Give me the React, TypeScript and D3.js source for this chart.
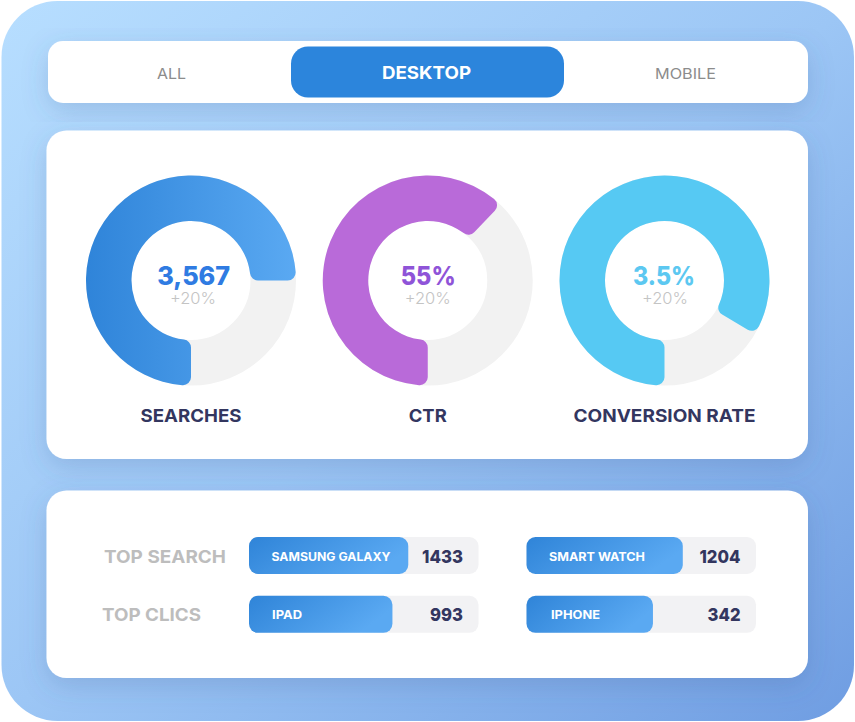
import { useEffect, useRef } from 'react'
import { arc, pie, scaleLinear, scalePoint, select } from 'd3'

const tabs = ['ALL', 'DESKTOP', 'MOBILE']

const metricNames = ['SEARCHES', 'CTR', 'CONVERSION RATE']
const metricValues = ['3,567', '55%', '3.5%']
const metricDeltas = ['+20%', '+20%', '+20%']
// share of the ring that is filled
const metricShares = [0.75, 0.622, 0.835]

const rowLabels = ['TOP SEARCH', 'TOP CLICS']
const barLabels = ['SAMSUNG GALAXY', 'IPAD', 'SMART WATCH', 'IPHONE']
const barValues = [1433, 993, 1204, 342]
const barShares = [0.694, 0.625, 0.681, 0.551]

// measured text widths (the original font is not installed)
const tabWidths = [29, 89, 61]
const valueWidths = [73, 55, 62]
const titleWidths = [101, 38, 182]
const rowLabelWidths = [122, 99]
const barLabelWidths = [119, 30, 96, 49]
const barValueWidths = [41, 33, 41, 33]

// small offsets of the centre texts and bar labels
const valueShift = [2.7, 0.5, -0.5]
const deltaShift = [2, 0, 0.5]
const barLabelX = [22.5, 23, 22.5, 24.5]

const FONT = 'Inter, "Noto Sans", sans-serif'
const NAVY = '#33365f'

const dimensions = { width: 855, height: 722 }

const App = () => {
  const ref = useRef<SVGSVGElement | null>(null)

  useEffect(() => {
    const svg = select(ref.current)
    svg.selectAll('*').remove()
    const defs = svg.append('defs')

    const gradient = (id: string, x2: number, y2: number, stops: string[]) => {
      const g = defs.append('linearGradient').attr('id', id)
        .attr('x1', 0).attr('y1', 0).attr('x2', x2).attr('y2', y2)
      stops.forEach((c, i) => g.append('stop').attr('offset', i / (stops.length - 1)).attr('stop-color', c))
    }
    gradient('bg', 1, 1, ['#b7deff', '#9cc6f5', '#6f9de2'])
    gradient('blue', 1, 0, ['#2f84d9', '#5aa9f2'])
    gradient('barBlue', 1, 0.35, ['#2f84d8', '#5aa9f2'])

    const shadow = defs.append('filter').attr('id', 'shadow')
      .attr('x', '-10%').attr('y', '-20%').attr('width', '120%').attr('height', '150%')
    shadow.append('feDropShadow').attr('dx', 0).attr('dy', 8).attr('stdDeviation', 13)
      .attr('flood-color', '#3d5f96').attr('flood-opacity', 0.22)

    const text = (g: any, label: string | number, x: number, y: number, size: number, weight: number,
      fill: string, width: number, anchor = 'start') =>
      g.append('text').text(label).attr('x', x).attr('y', y)
        .attr('font-family', FONT).attr('font-size', size).attr('font-weight', weight)
        .attr('fill', fill).attr('text-anchor', anchor)
        .attr('textLength', width).attr('lengthAdjust', 'spacingAndGlyphs')

    const card = (x: number, y: number, w: number, h: number, r: number) =>
      svg.append('rect').attr('x', x).attr('y', y).attr('width', w).attr('height', h)
        .attr('rx', r).attr('fill', '#fff').attr('filter', 'url(#shadow)')

    svg.append('rect').attr('x', 1.5).attr('y', 1).attr('width', 852.5).attr('height', 720)
      .attr('rx', 56).attr('fill', 'url(#bg)')

    card(48, 41, 760, 62, 15)
    card(46.5, 130.5, 761.5, 328.5, 20)
    card(46.5, 490.5, 761.5, 187.5, 20)

    // tabs
    svg.append('rect').attr('x', 291).attr('y', 46.5).attr('width', 273).attr('height', 51)
      .attr('rx', 17).attr('fill', '#2c85dc')
    const tabX = [171.5, 426.5, 685.5]
    tabs.forEach((t, i) => {
      const active = t === 'DESKTOP'
      text(svg, t, tabX[i], 78.5, active ? 17.5 : 14.5, active ? 700 : 400,
        active ? '#fff' : '#8c8c8c', tabWidths[i], 'middle')
    })

    // donuts
    const cx = scalePoint<string>().domain(metricNames).range([191, 664.5])
    const cy = 280.5
    const ring = arc<any>().innerRadius(59.5).outerRadius(105).cornerRadius(8)
    const fills = ['url(#blue)', '#b96ad9', '#56c9f3']
    const valueColors = ['#2f7be2', '#8f54d8', '#5cc8f1']

    metricNames.forEach((name, i) => {
      const g = svg.append('g').attr('transform', `translate(${cx(name)}, ${cy})`)
      const share = metricShares[i]
      const slices = pie<number>().sort(null)
        .startAngle(Math.PI).endAngle(3 * Math.PI)([share, 1 - share])

      g.append('circle').attr('r', 82.25).attr('fill', 'none')
        .attr('stroke', '#f2f2f2').attr('stroke-width', 45.5)
      g.append('path').attr('d', ring(slices[0])).attr('fill', fills[i])

      text(g, metricValues[i], valueShift[i], 4.5, 25.5, 800, valueColors[i], valueWidths[i], 'middle')
      text(g, metricDeltas[i], deltaShift[i], 23, 16, 300, '#c4c4c4', 46, 'middle')
      text(g, name, 0, 141, 17.5, 700, NAVY, titleWidths[i], 'middle')
    })

    // bars
    const colX = scalePoint<number>().domain([0, 1]).range([249, 526.5])
    const rowY = scalePoint<string>().domain(rowLabels).range([537, 595.8])
    const fillW = scaleLinear().domain([0, 1]).range([0, 229.5])
    const rowX = [104, 102]

    rowLabels.forEach((label, i) => {
      text(svg, label, rowX[i], rowY(label)! + 25.5, 17.5, 700, '#bdbdbd', rowLabelWidths[i])
    })

    barLabels.forEach((label, i) => {
      const col = i < 2 ? 0 : 1
      const row = rowLabels[i % 2]
      const g = svg.append('g').attr('transform', `translate(${colX(col)}, ${rowY(row)})`)
      g.append('rect').attr('width', 229.5).attr('height', 37).attr('rx', 9).attr('fill', '#f2f2f4')
      g.append('rect').attr('width', fillW(barShares[i])).attr('height', 37).attr('rx', 9)
        .attr('fill', 'url(#barBlue)')
      text(g, label, barLabelX[i], 23.5, 12, 700, '#fff', barLabelWidths[i])
      text(g, barValues[i], 214, 25.5, 18, 800, NAVY, barValueWidths[i], 'end')
    })
  }, [])

  return (
    <svg
      ref={ref}
      width={dimensions.width}
      height={dimensions.height}
      style={{ position: 'absolute', left: 0, top: 0, display: 'block' }}
    />
  )
}

export default App
